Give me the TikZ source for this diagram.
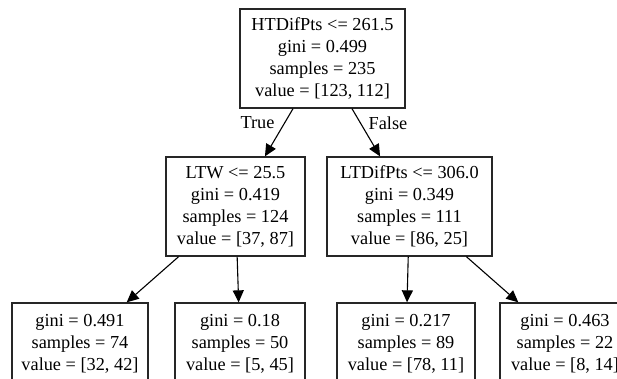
\documentclass[tikz,border=0pt]{standalone}
\usepackage{fontspec}
\setmainfont{Liberation Serif}
\usetikzlibrary{arrows.meta}
\begin{document}
\begin{tikzpicture}[x=1pt,y=-1pt,
  treenode/.style={draw=black!85, line width=1.3pt, fill=white, inner sep=0pt,
    align=center, font=\fontsize{18.3}{22}\selectfont, minimum height=99pt},
  leafnode/.style={treenode, minimum height=81pt},
  edge/.style={draw=black, line width=1.1pt, -{Triangle[length=12pt,width=11pt]}},
  elabel/.style={font=\fontsize{18.3}{22}\selectfont, inner sep=0pt}]
\useasboundingbox (0,0) rectangle (617,378);
\clip (0,0) rectangle (617,378);
\fill[white] (0,0) rectangle (617,378);

% split nodes
\node[treenode, minimum width=165pt] (root) at (322.5,58.5)
  {HTDifPts <= 261.5\\gini = 0.499\\samples = 235\\value = [123, 112]};
\node[treenode, minimum width=139pt] (lmid) at (235.5,206.5)
  {LTW <= 25.5\\gini = 0.419\\samples = 124\\value = [37, 87]};
\node[treenode, minimum width=165pt] (rmid) at (409.5,206.5)
  {LTDifPts <= 306.0\\gini = 0.349\\samples = 111\\value = [86, 25]};

% leaves
\node[leafnode, minimum width=136pt] (leafa) at (80,343.5)
  {gini = 0.491\\samples = 74\\value = [32, 42]};
\node[leafnode, minimum width=130pt] (leafb) at (240,343.5)
  {gini = 0.18\\samples = 50\\value = [5, 45]};
\node[leafnode, minimum width=138pt] (leafc) at (406,343.5)
  {gini = 0.217\\samples = 89\\value = [78, 11]};
\node[leafnode, minimum width=130pt] (leafd) at (565,343.5)
  {gini = 0.463\\samples = 22\\value = [8, 14]};

% connectors
\draw[edge] (root) -- (lmid);
\draw[edge] (root) -- (rmid);
\draw[edge] (lmid) -- (leafa);
\draw[edge] (lmid) -- (leafb);
\draw[edge] (rmid) -- (leafc);
\draw[edge] (rmid) -- (leafd);

% branch labels
\node[elabel] (truelbl) at (257.5,123) {True};
\node[elabel] (falselbl) at (388,123) {False};
\end{tikzpicture}
\end{document}
